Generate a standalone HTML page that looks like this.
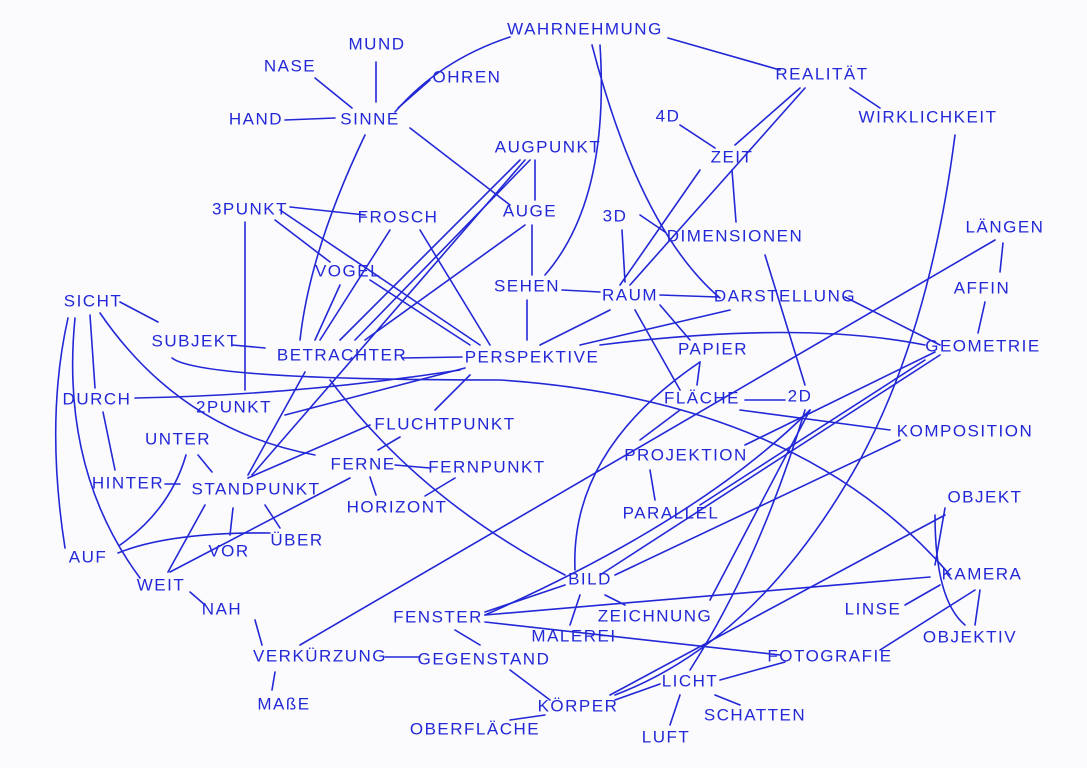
<!DOCTYPE html>
<html><head><meta charset="utf-8"><style>
html,body{margin:0;padding:0;background:#fbfbfd;}
svg{display:block}
text{font-family:"Liberation Sans",sans-serif;font-size:17px;fill:#2328d6;letter-spacing:1.5px;text-anchor:middle;dominant-baseline:middle}
path,line{stroke:#2328d6;stroke-width:1.6;fill:none;stroke-linecap:round}
</style></head><body>
<svg width="1087" height="768" viewBox="0 0 1087 768" xmlns="http://www.w3.org/2000/svg">
<rect width="1087" height="768" fill="#fbfbfd"/>
<g>
<line x1="285" y1="120" x2="335" y2="118"/>
<line x1="315" y1="78" x2="352" y2="108"/>
<line x1="376" y1="62" x2="376" y2="102"/>
<line x1="430" y1="80" x2="398" y2="108"/>
<path d="M395 112 Q440 60 510 37"/>
<line x1="668" y1="38" x2="780" y2="70"/>
<line x1="850" y1="88" x2="880" y2="108"/>
<line x1="800" y1="88" x2="735" y2="145"/>
<line x1="805" y1="88" x2="630" y2="285"/>
<line x1="680" y1="125" x2="715" y2="148"/>
<line x1="732" y1="170" x2="736" y2="222"/>
<line x1="700" y1="170" x2="620" y2="285"/>
<path d="M600 45 Q610 200 545 275"/>
<path d="M592 45 Q640 230 720 298"/>
<line x1="410" y1="128" x2="510" y2="205"/>
<path d="M365 135 Q310 250 300 340"/>
<line x1="535" y1="160" x2="535" y2="200"/>
<line x1="520" y1="160" x2="340" y2="340"/>
<line x1="530" y1="160" x2="355" y2="340"/>
<line x1="532" y1="225" x2="532" y2="275"/>
<line x1="525" y1="225" x2="365" y2="340"/>
<line x1="527" y1="300" x2="527" y2="340"/>
<line x1="562" y1="290" x2="600" y2="292"/>
<line x1="622" y1="230" x2="625" y2="282"/>
<line x1="640" y1="215" x2="665" y2="232"/>
<line x1="660" y1="295" x2="718" y2="297"/>
<line x1="610" y1="310" x2="540" y2="345"/>
<line x1="635" y1="310" x2="680" y2="390"/>
<line x1="660" y1="305" x2="690" y2="340"/>
<line x1="845" y1="297" x2="940" y2="345"/>
<line x1="730" y1="310" x2="580" y2="345"/>
<line x1="765" y1="255" x2="805" y2="385"/>
<line x1="290" y1="207" x2="365" y2="215"/>
<line x1="245" y1="222" x2="245" y2="390"/>
<line x1="280" y1="210" x2="480" y2="345"/>
<line x1="275" y1="220" x2="330" y2="262"/>
<line x1="390" y1="230" x2="320" y2="340"/>
<line x1="420" y1="230" x2="490" y2="345"/>
<line x1="340" y1="285" x2="315" y2="340"/>
<line x1="370" y1="280" x2="470" y2="345"/>
<line x1="120" y1="302" x2="158" y2="322"/>
<line x1="90" y1="315" x2="95" y2="388"/>
<path d="M68 318 Q45 420 65 548"/>
<path d="M75 318 Q60 470 140 578"/>
<path d="M100 313 Q180 430 315 455"/>
<line x1="232" y1="345" x2="265" y2="348"/>
<path d="M172 358 Q200 380 500 380 Q800 400 950 575"/>
<line x1="402" y1="358" x2="462" y2="357"/>
<path d="M330 380 Q420 500 565 575"/>
<path d="M600 345 Q800 320 925 345"/>
<path d="M135 398 Q300 395 460 370"/>
<line x1="465" y1="368" x2="285" y2="415"/>
<line x1="470" y1="375" x2="435" y2="410"/>
<line x1="248" y1="475" x2="305" y2="372"/>
<line x1="252" y1="475" x2="525" y2="160"/>
<line x1="248" y1="478" x2="370" y2="425"/>
<line x1="400" y1="437" x2="378" y2="450"/>
<line x1="395" y1="465" x2="430" y2="468"/>
<line x1="455" y1="478" x2="425" y2="496"/>
<line x1="370" y1="477" x2="376" y2="495"/>
<line x1="198" y1="455" x2="212" y2="472"/>
<path d="M186 455 Q170 510 120 545"/>
<line x1="165" y1="484" x2="180" y2="484"/>
<line x1="103" y1="412" x2="115" y2="470"/>
<line x1="265" y1="505" x2="280" y2="528"/>
<line x1="233" y1="508" x2="230" y2="535"/>
<line x1="205" y1="505" x2="168" y2="572"/>
<path d="M118 553 Q170 532 270 533"/>
<line x1="170" y1="572" x2="350" y2="478"/>
<line x1="190" y1="592" x2="205" y2="605"/>
<line x1="255" y1="620" x2="262" y2="645"/>
<line x1="275" y1="672" x2="272" y2="690"/>
<line x1="385" y1="657" x2="420" y2="657"/>
<line x1="300" y1="645" x2="995" y2="240"/>
<line x1="1003" y1="243" x2="1000" y2="272"/>
<line x1="985" y1="302" x2="978" y2="333"/>
<line x1="940" y1="355" x2="600" y2="575"/>
<line x1="925" y1="360" x2="700" y2="505"/>
<line x1="935" y1="352" x2="745" y2="445"/>
<path d="M700 362 Q570 450 575 570"/>
<line x1="700" y1="362" x2="697" y2="385"/>
<line x1="745" y1="400" x2="785" y2="400"/>
<line x1="740" y1="410" x2="890" y2="430"/>
<line x1="680" y1="410" x2="640" y2="440"/>
<line x1="650" y1="470" x2="655" y2="500"/>
<line x1="810" y1="410" x2="710" y2="600"/>
<path d="M805 410 Q760 560 690 670"/>
<path d="M810 410 Q700 520 485 615"/>
<line x1="900" y1="440" x2="615" y2="575"/>
<line x1="945" y1="508" x2="935" y2="565"/>
<line x1="945" y1="515" x2="610" y2="695"/>
<path d="M935 515 Q935 600 965 625"/>
<path d="M955 135 Q930 330 860 460 Q760 640 615 695"/>
<line x1="940" y1="585" x2="905" y2="605"/>
<line x1="930" y1="577" x2="485" y2="615"/>
<line x1="975" y1="590" x2="880" y2="650"/>
<line x1="980" y1="590" x2="975" y2="625"/>
<line x1="565" y1="585" x2="485" y2="612"/>
<line x1="605" y1="595" x2="625" y2="605"/>
<line x1="580" y1="595" x2="570" y2="625"/>
<line x1="485" y1="622" x2="780" y2="655"/>
<line x1="455" y1="630" x2="480" y2="645"/>
<line x1="720" y1="680" x2="785" y2="662"/>
<line x1="660" y1="684" x2="615" y2="700"/>
<line x1="680" y1="695" x2="670" y2="725"/>
<line x1="715" y1="695" x2="740" y2="705"/>
<line x1="510" y1="670" x2="550" y2="700"/>
<line x1="545" y1="715" x2="510" y2="720"/>
</g>
<g>
<text x="585" y="30">WAHRNEHMUNG</text>
<text x="377" y="45">MUND</text>
<text x="290" y="67">NASE</text>
<text x="467" y="78">OHREN</text>
<text x="822" y="75">REALITÄT</text>
<text x="256" y="120">HAND</text>
<text x="370" y="120">SINNE</text>
<text x="928" y="118">WIRKLICHKEIT</text>
<text x="668" y="117">4D</text>
<text x="548" y="148">AUGPUNKT</text>
<text x="732" y="158">ZEIT</text>
<text x="250" y="210">3PUNKT</text>
<text x="398" y="218">FROSCH</text>
<text x="530" y="212">AUGE</text>
<text x="615" y="217">3D</text>
<text x="735" y="237">DIMENSIONEN</text>
<text x="1005" y="228">LÄNGEN</text>
<text x="348" y="272">VOGEL</text>
<text x="527" y="287">SEHEN</text>
<text x="630" y="296">RAUM</text>
<text x="785" y="297">DARSTELLUNG</text>
<text x="982" y="289">AFFIN</text>
<text x="93" y="302">SICHT</text>
<text x="195" y="342">SUBJEKT</text>
<text x="342" y="356">BETRACHTER</text>
<text x="532" y="358">PERSPEKTIVE</text>
<text x="713" y="350">PAPIER</text>
<text x="983" y="347">GEOMETRIE</text>
<text x="97" y="400">DURCH</text>
<text x="234" y="408">2PUNKT</text>
<text x="445" y="425">FLUCHTPUNKT</text>
<text x="702" y="399">FLÄCHE</text>
<text x="800" y="397">2D</text>
<text x="965" y="432">KOMPOSITION</text>
<text x="178" y="440">UNTER</text>
<text x="686" y="456">PROJEKTION</text>
<text x="363" y="465">FERNE</text>
<text x="487" y="468">FERNPUNKT</text>
<text x="128" y="484">HINTER</text>
<text x="256" y="490">STANDPUNKT</text>
<text x="397" y="508">HORIZONT</text>
<text x="985" y="498">OBJEKT</text>
<text x="671" y="514">PARALLEL</text>
<text x="297" y="541">ÜBER</text>
<text x="229" y="552">VOR</text>
<text x="88" y="558">AUF</text>
<text x="161" y="586">WEIT</text>
<text x="222" y="610">NAH</text>
<text x="590" y="580">BILD</text>
<text x="982" y="575">KAMERA</text>
<text x="438" y="618">FENSTER</text>
<text x="655" y="617">ZEICHNUNG</text>
<text x="873" y="610">LINSE</text>
<text x="574" y="637">MALEREI</text>
<text x="970" y="638">OBJEKTIV</text>
<text x="320" y="657">VERKÜRZUNG</text>
<text x="484" y="660">GEGENSTAND</text>
<text x="830" y="657">FOTOGRAFIE</text>
<text x="690" y="682">LICHT</text>
<text x="578" y="707">KÖRPER</text>
<text x="284" y="705">MAßE</text>
<text x="755" y="716">SCHATTEN</text>
<text x="475" y="730">OBERFLÄCHE</text>
<text x="666" y="738">LUFT</text>
</g>
</svg>
</body></html>
